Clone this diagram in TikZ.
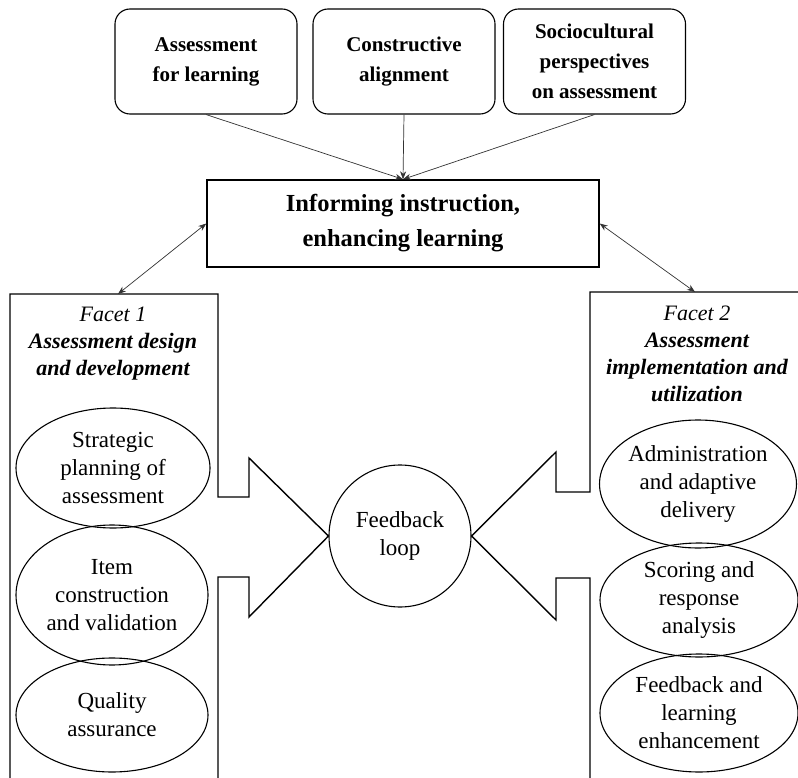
\documentclass[tikz,border=0pt]{standalone}
\usepackage{fontspec}
\setmainfont{Liberation Serif}
\usetikzlibrary{arrows.meta,shapes.geometric}

\begin{document}
\begin{tikzpicture}[x=1pt,y=-1pt,
  topbox/.style={draw, line width=1.1pt, rounded corners=15pt,
    minimum width=182pt, minimum height=105pt, inner sep=0pt,
    align=center, font=\fontsize{21}{30}\selectfont\bfseries},
  mainbox/.style={draw, line width=1.4pt, minimum width=392pt,
    minimum height=87pt, inner sep=0pt, align=center,
    font=\fontsize{24.5}{35}\selectfont\bfseries},
  panel/.style={draw, line width=1.4pt, line join=miter},
  oval/.style={draw, ellipse, line width=1.1pt, inner sep=0pt,
    align=center, font=\fontsize{23}{28}\selectfont},
  loopnode/.style={draw, circle, line width=1.1pt, minimum size=142pt,
    inner sep=0pt, align=center, font=\fontsize{23}{28}\selectfont},
  facet/.style={inner sep=0pt, align=center,
    font=\fontsize{22}{27}\selectfont\itshape},
  conn/.style={line width=0.7pt, draw=black!80,
    -{Stealth[length=8pt,width=6pt]}},
  dconn/.style={line width=0.7pt, draw=black!80,
    {Stealth[length=8pt,width=6pt]}-{Stealth[length=8pt,width=6pt]}}
]
\useasboundingbox (0,0) rectangle (798,778);

% theoretical foundations
\node[topbox] (t1) at (206,61.5) {Assessment\\for learning};
\node[topbox] (t2) at (404,61.5) {Constructive\\alignment};
\node[topbox] (t3) at (594.5,61.5) {Sociocultural\\perspectives\\on assessment};

% central aim
\node[mainbox] (c) at (403,223.5) {Informing instruction,\\enhancing learning};

% feedback loop in the middle
\node[loopnode] (fb) at (400,536) {Feedback\\loop};

% facet outlines with arrows pointing into the feedback loop
\draw[panel] (10,780) -- (10,294) -- (218,294) -- (218,497) -- (249,497)
  -- (249,458) -- (fb.west) -- (249,617) -- (249,577) -- (218,577) -- (218,780);
\draw[panel] (800,292) -- (590,292) -- (590,492) -- (556,492)
  -- (556,452) -- (fb.east) -- (556,620) -- (556,578) -- (590,578) -- (590,780);

\coordinate (p1) at (118,294);
\coordinate (p2) at (695,292);

% facet titles
\node[facet] (f1) at (113,343.5) {Facet 1\\\textbf{Assessment design}\\\textbf{and development}};
\node[facet] (f2) at (697,354) {Facet 2\\\textbf{Assessment}\\\textbf{implementation and}\\\textbf{utilization}};

% facet 1 components
\node[oval, minimum width=194pt, minimum height=120pt] (e1) at (113,468)
  {Strategic\\planning of\\assessment};
\node[oval, minimum width=192pt, minimum height=140pt] (e2) at (112,595)
  {Item\\construction\\and validation};
\node[oval, minimum width=192pt, minimum height=114pt] (e3) at (112,715)
  {Quality\\assurance};

% facet 2 components
\node[oval, minimum width=196pt, minimum height=128pt] (r1) at (698,484)
  {Administration\\and adaptive\\delivery};
\node[oval, minimum width=198pt, minimum height=114pt] (r2) at (699,600)
  {Scoring and\\response\\analysis};
\node[oval, minimum width=198pt, minimum height=118pt] (r3) at (699,713)
  {Feedback and\\learning\\enhancement};

% connectors
\draw[conn] (t1.south) -- (c.north);
\draw[conn] (t2.south) -- (c.north);
\draw[conn] (t3.south) -- (c.north);
\draw[dconn] (c.west) -- (p1);
\draw[dconn] (c.east) -- (p2);
\end{tikzpicture}
\end{document}
